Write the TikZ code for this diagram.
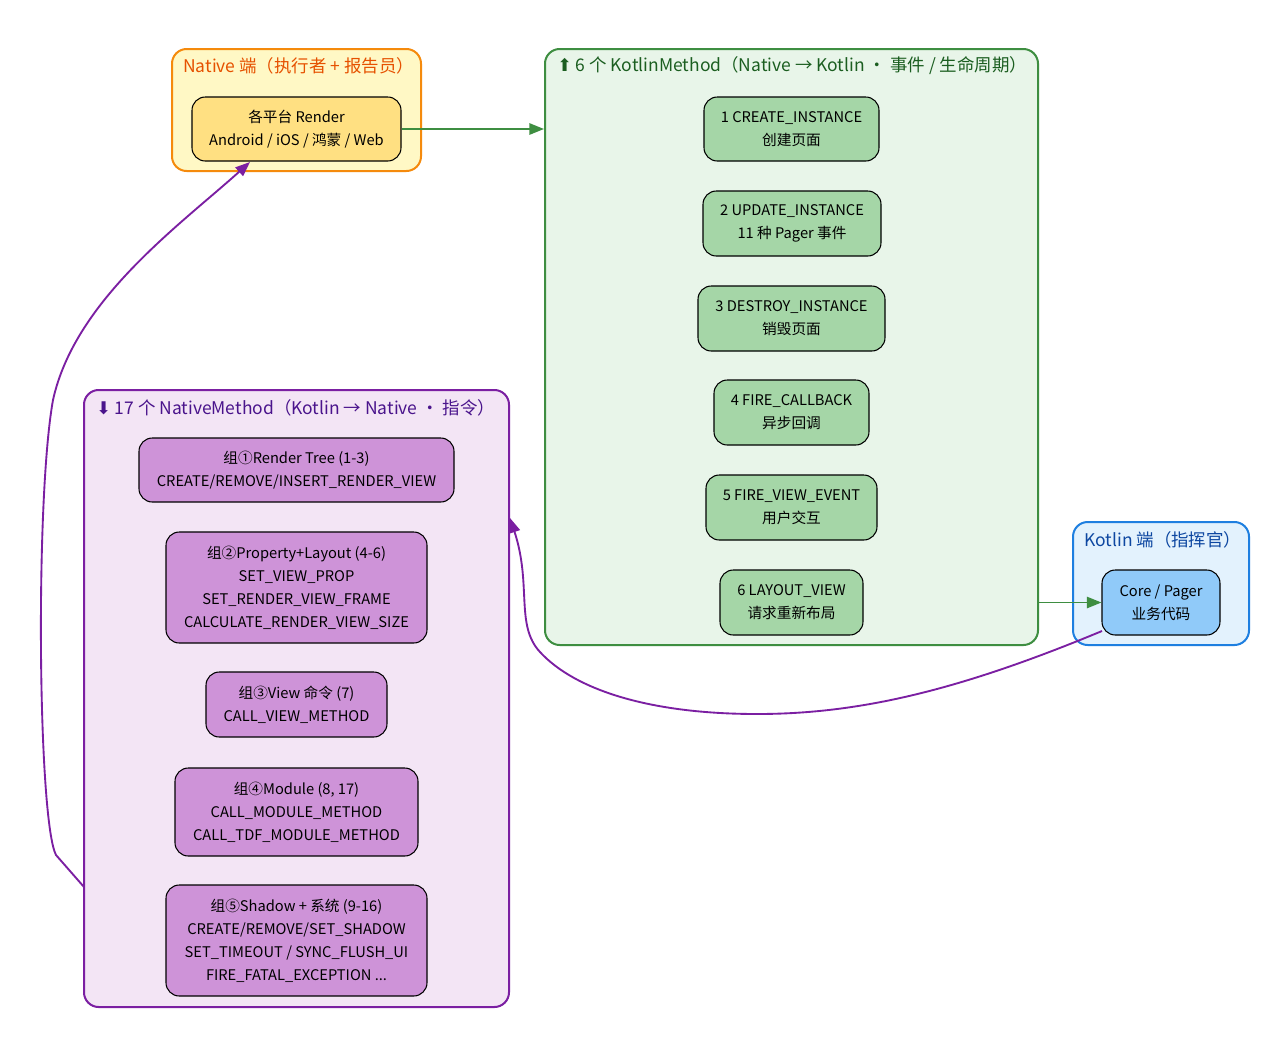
\documentclass[tikz,border=0pt]{standalone}
\usepackage{fontspec}
\setmainfont{Noto Sans CJK SC}
\newfontfamily\symfont{DejaVu Sans}
\usetikzlibrary{arrows.meta}
\definecolor{natfill}{HTML}{FFF8C5}
\definecolor{natdraw}{HTML}{F58A0C}
\definecolor{nattext}{HTML}{E65100}
\definecolor{renfill}{HTML}{FFE082}
\definecolor{grfill}{HTML}{E8F5E9}
\definecolor{grdraw}{HTML}{3E8E41}
\definecolor{grtext}{HTML}{1B5E20}
\definecolor{grnode}{HTML}{A5D6A7}
\definecolor{ktfill}{HTML}{E3F2FD}
\definecolor{ktdraw}{HTML}{1E7FE0}
\definecolor{kttext}{HTML}{0D47A1}
\definecolor{ktnode}{HTML}{90CAF9}
\definecolor{pufill}{HTML}{F3E5F5}
\definecolor{pudraw}{HTML}{7B1FA2}
\definecolor{putext}{HTML}{4A148C}
\definecolor{punode}{HTML}{CE93D8}
\tikzset{
  cluster/.style={rectangle, rounded corners=11pt, line width=1.5pt, inner sep=0pt},
  item/.style={rectangle, rounded corners=10pt, draw=black, line width=0.8pt, inner sep=0pt,
    align=center, font=\fontsize{11}{17.25}\selectfont, text=black},
  ctitle/.style={anchor=west, inner sep=0pt, font=\fontsize{13.1}{15}\selectfont},
  garrow/.style={draw=grdraw, line width=1.4pt, -{Triangle[length=11pt,width=8.5pt]}},
  parrow/.style={draw=pudraw, line width=1.4pt, -{Triangle[length=11pt,width=8.5pt]}},
}
\begin{document}
\begin{tikzpicture}[x=0.75pt,y=-0.75pt]
\useasboundingbox[fill=white] (0,0) rectangle (1288,1057);
% clusters
\node[cluster, fill=natfill, draw=natdraw, minimum width=249*0.75pt, minimum height=122*0.75pt] (native) at (296.5,110) {};
\node[ctitle, text=nattext] (nattitle) at (183,65.5) {Native 端（执行者 + 报告员）};
\node[cluster, fill=grfill, draw=grdraw, minimum width=493*0.75pt, minimum height=596*0.75pt] (green) at (791.5,347) {};
\node[ctitle, text=grtext] (grtitle) at (557,65.5) {{\symfont ⬆} 6 个 KotlinMethod（Native → Kotlin ・ 事件 / 生命周期）};
\node[cluster, fill=ktfill, draw=ktdraw, minimum width=176*0.75pt, minimum height=123*0.75pt] (kotlin) at (1161,583.5) {};
\node[ctitle, text=kttext] (kttitle) at (1084,539.5) {Kotlin 端（指挥官）};
\node[cluster, fill=pufill, draw=pudraw, minimum width=425*0.75pt, minimum height=617*0.75pt] (purple) at (296.5,698.5) {};
\node[ctitle, text=putext] (putitle) at (96,407.5) {{\symfont ⬇} 17 个 NativeMethod（Kotlin → Native ・ 指令）};
% native node
\node[item, fill=renfill, minimum width=209*0.75pt, minimum height=64*0.75pt] (render) at (296.5,129) {各平台 Render\\Android / iOS / 鸿蒙 / Web};
% green nodes
\node[item, fill=grnode, minimum width=175*0.75pt, minimum height=64*0.75pt] (k1) at (791.5,129) {1 CREATE\_INSTANCE\\创建页面};
\node[item, fill=grnode, minimum width=178*0.75pt, minimum height=65*0.75pt] (k2) at (792,223.5) {2 UPDATE\_INSTANCE\\11 种 Pager 事件};
\node[item, fill=grnode, minimum width=187*0.75pt, minimum height=65*0.75pt] (k3) at (791.5,318.5) {3 DESTROY\_INSTANCE\\销毁页面};
\node[item, fill=grnode, minimum width=155*0.75pt, minimum height=65*0.75pt] (k4) at (791.5,412.5) {4 FIRE\_CALLBACK\\异步回调};
\node[item, fill=grnode, minimum width=171*0.75pt, minimum height=65*0.75pt] (k5) at (791.5,507.5) {5 FIRE\_VIEW\_EVENT\\用户交互};
\node[item, fill=grnode, minimum width=143*0.75pt, minimum height=65*0.75pt] (k6) at (791.5,602.5) {6 LAYOUT\_VIEW\\请求重新布局};
% kotlin node
\node[item, fill=ktnode, minimum width=118*0.75pt, minimum height=65*0.75pt] (core) at (1161,602.5) {Core / Pager\\业务代码};
% purple nodes
\node[item, fill=punode, minimum width=315*0.75pt, minimum height=64*0.75pt] (g1) at (296.5,470) {组①Render Tree (1-3)\\CREATE/REMOVE/INSERT\_RENDER\_VIEW};
\node[item, fill=punode, minimum width=261*0.75pt, minimum height=111*0.75pt] (g2) at (296.5,587.5) {组②Property+Layout (4-6)\\SET\_VIEW\_PROP\\SET\_RENDER\_VIEW\_FRAME\\CALCULATE\_RENDER\_VIEW\_SIZE};
\node[item, fill=punode, minimum width=181*0.75pt, minimum height=65*0.75pt] (g3) at (296.5,704.5) {组③View 命令 (7)\\CALL\_VIEW\_METHOD};
\node[item, fill=punode, minimum width=243*0.75pt, minimum height=88*0.75pt] (g4) at (296.5,812) {组④Module (8, 17)\\CALL\_MODULE\_METHOD\\CALL\_TDF\_MODULE\_METHOD};
\node[item, fill=punode, minimum width=261*0.75pt, minimum height=111*0.75pt] (g5) at (296.5,940.5) {组⑤Shadow + 系统 (9-16)\\CREATE/REMOVE/SET\_SHADOW\\SET\_TIMEOUT / SYNC\_FLUSH\_UI\\FIRE\_FATAL\_EXCEPTION ...};
% connectors
\draw[garrow] (render.east) -- (green.west |- render.east);
\draw[garrow] (green.east |- core.west) -- (core.west);
\coordinate (coreout) at (1102,631);
\coordinate (puin) at (510,518);
\draw[parrow] (coreout) .. controls (960,690) and (860,714) .. (757,714)
  .. controls (650,714) and (575,690) .. (540,652)
  .. controls (515,625) and (532,585) .. (puin);
\coordinate (puout) at (84,887);
\coordinate (renin) at (250,162);
\draw[parrow] (puout) -- (56,855) .. controls (38,820) and (35,500) .. (53,400)
  .. controls (75,300) and (180,225) .. (renin);
\end{tikzpicture}
\end{document}
